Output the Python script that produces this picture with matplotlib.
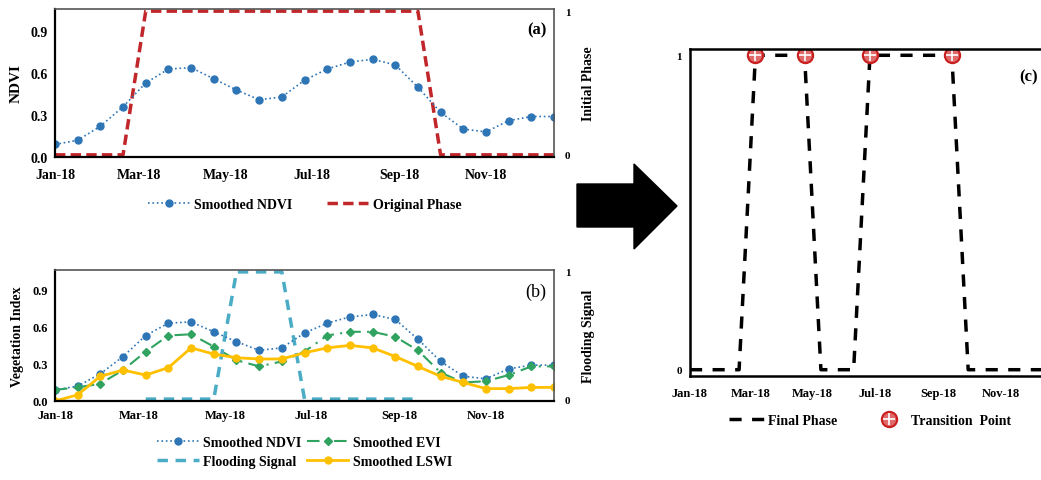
import numpy as np
import matplotlib
matplotlib.use("Agg")
import matplotlib.pyplot as plt
from matplotlib.patches import Polygon
from matplotlib.legend_handler import HandlerTuple

plt.rcParams['font.family'] = ['Liberation Serif', 'DejaVu Serif']
plt.rcParams['font.weight'] = 'bold'

# 16-day composite dates
dates = np.array(['2018-01-01', '2018-01-17', '2018-02-02', '2018-02-18', '2018-03-06',
                  '2018-03-22', '2018-04-07', '2018-04-23', '2018-05-09', '2018-05-25',
                  '2018-06-10', '2018-06-26', '2018-07-12', '2018-07-28', '2018-08-13',
                  '2018-08-29', '2018-09-14', '2018-09-30', '2018-10-16', '2018-11-01',
                  '2018-11-17', '2018-12-03', '2018-12-19'], dtype='datetime64[D]')

tick_dates = np.array(['2018-01-01', '2018-03-01', '2018-05-01', '2018-07-01',
                       '2018-09-01', '2018-11-01'], dtype='datetime64[D]')
tick_labels = ['Jan-18', 'Mar-18', 'May-18', 'Jul-18', 'Sep-18', 'Nov-18']

ndvi = [0.09, 0.12, 0.22, 0.36, 0.53, 0.63, 0.64, 0.56, 0.48, 0.41, 0.43, 0.55,
        0.63, 0.68, 0.70, 0.66, 0.50, 0.32, 0.20, 0.18, 0.26, 0.29, 0.29]
evi = [0.09, 0.11, 0.14, 0.25, 0.40, 0.53, 0.54, 0.44, 0.33, 0.28, 0.32, 0.40,
       0.53, 0.56, 0.56, 0.52, 0.41, 0.23, 0.15, 0.16, 0.21, 0.28, 0.28]
lswi = [0.00, 0.05, 0.20, 0.25, 0.21, 0.27, 0.43, 0.38, 0.35, 0.34, 0.34, 0.39,
        0.43, 0.45, 0.43, 0.36, 0.28, 0.20, 0.15, 0.10, 0.10, 0.11, 0.11]
original_phase = [0, 0, 0, 0, 1, 1, 1, 1, 1, 1, 1, 1, 1, 1, 1, 1, 1, 0, 0, 0, 0, 0, 0]
nan = np.nan
flooding = [nan, nan, nan, nan, 0, 0, 0, 0, 1, 1, 1, 0, 0, 0, 0, 0, 0,
            nan, nan, nan, nan, nan, nan]
final_phase = [0, 0, 0, 0, 1, 1, 1, 1, 0, 0, 0, 1, 1, 1, 1, 1, 1, 0, 0, 0, 0, 0, 0]
transition_idx = [4, 7, 11, 16]

c_ndvi = '#2e75b6'
c_evi = '#2fa35f'
c_lswi = '#ffc000'
c_flood = '#4bacc6'
c_phase = '#c0262a'

W, H = 1041, 481
fig = plt.figure(figsize=(W / 100, H / 100), dpi=100)


def box(x0, y0, x1, y1):
    # pixel box -> figure fraction
    return [x0 / W, 1 - y1 / H, (x1 - x0) / W, (y1 - y0) / H]


def style_left(ax, fs):
    ax.set_xlim(dates[0], dates[-1])
    ax.set_ylim(0, 1.06)
    ax.set_yticks([0, 0.3, 0.6, 0.9])
    ax.set_yticklabels(['0.0', '0.3', '0.6', '0.9'])
    ax.set_xticks(tick_dates)
    ax.set_xticklabels(tick_labels)
    ax.tick_params(length=0, labelsize=fs)
    ax.tick_params(axis='x', pad=8)
    ax.tick_params(axis='y', pad=5)
    for s in ['left', 'bottom']:
        ax.spines[s].set_color('black')
        ax.spines[s].set_linewidth(1.6)
    for s in ['top', 'right']:
        ax.spines[s].set_color('#555555')
        ax.spines[s].set_linewidth(1.2)


def style_right(ax2, label):
    ax2.set_ylim(-0.015, 1.015)
    ax2.set_yticks([0, 1])
    ax2.set_yticklabels(['0', '1'])
    ax2.tick_params(length=0, labelsize=8, pad=8)
    ax2.set_ylabel(label, fontsize=10, fontweight='bold', labelpad=8)
    for s in ax2.spines.values():
        s.set_visible(False)


# ---- panel (a)
ax_a = fig.add_axes(box(55, 10, 554, 158))
ax_a2 = ax_a.twinx()
ax_a.set_zorder(ax_a2.get_zorder() + 1)
ax_a.patch.set_visible(False)
l1, = ax_a.plot(dates, ndvi, ':', color=c_ndvi, lw=1.2, marker='o', ms=5,
                label='Smoothed NDVI')
l2, = ax_a2.plot(dates, original_phase, '--', color=c_phase, lw=2.5,
                 dashes=(3, 1.5), label='Original Phase')
style_left(ax_a, 10)
style_right(ax_a2, 'Initial Phase')
ax_a.set_ylabel('NDVI', fontsize=11, fontweight='bold', labelpad=6)
ax_a.text(0.985, 0.86, '(a)', transform=ax_a.transAxes, ha='right', va='center',
          fontsize=12, fontweight='bold')
ax_a.legend(handles=[l1, l2], loc='center', bbox_to_anchor=(0.5, -0.32), ncol=2,
            frameon=False, fontsize=10, handlelength=3, columnspacing=2.5,
            handletextpad=0.3)

# ---- panel (b)
ax_b = fig.add_axes(box(55, 271, 554, 402))
ax_b2 = ax_b.twinx()
ax_b.set_zorder(ax_b2.get_zorder() + 1)
ax_b.patch.set_visible(False)
b1, = ax_b.plot(dates, ndvi, ':', color=c_ndvi, lw=1.2, marker='o', ms=5,
                label='Smoothed NDVI')
b2, = ax_b.plot(dates, evi, '-.', color=c_evi, lw=1.5, marker='D', ms=4.5,
                dashes=(6, 3, 1, 3), label='Smoothed EVI')
b4, = ax_b.plot(dates, lswi, '-', color=c_lswi, lw=2, marker='o', ms=5,
                label='Smoothed LSWI')
b3, = ax_b2.plot(dates, flooding, '--', color=c_flood, lw=2.5, dashes=(3, 2.2),
                 label='Flooding Signal')
style_left(ax_b, 9)
ax_b.tick_params(axis='x', pad=6)
style_right(ax_b2, 'Flooding Signal')
ax_b.set_ylabel('Vegetation Index', fontsize=10, fontweight='bold', labelpad=6)
ax_b.text(0.985, 0.84, '(b)', transform=ax_b.transAxes, ha='right', va='center',
          fontsize=13, fontweight='normal')
ax_b.legend(handles=[b1, b3, b2, b4], loc='center', bbox_to_anchor=(0.5, -0.39),
            ncol=2, frameon=False, fontsize=10, handlelength=3, columnspacing=0.4,
            handletextpad=0.3, labelspacing=0.4)

# ---- panel (c)
ax_c = fig.add_axes(box(690, 50, 1050, 377))
c1, = ax_c.plot(dates, final_phase, '--', color='black', lw=2.5, dashes=(3.5, 3),
                label='Final Phase')
td = dates[transition_idx]
tv = np.array(final_phase)[transition_idx]
m1, = ax_c.plot(td, tv, 'o', ls='none', ms=11, mfc='#e06a6a', mec='#c81e1e', mew=1.5)
m2, = ax_c.plot(td, tv, '+', ls='none', ms=9, color='white', mew=1.2)
ax_c.set_xlim(dates[0], dates[-1])
ax_c.set_ylim(-0.02, 1.02)
ax_c.set_yticks([0, 1])
ax_c.set_yticklabels(['0', '1'])
ax_c.set_xticks(tick_dates)
ax_c.set_xticklabels(tick_labels)
ax_c.tick_params(length=0, labelsize=9)
ax_c.tick_params(axis='x', pad=8)
ax_c.tick_params(axis='y', labelsize=8, pad=6)
for s in ['left', 'bottom', 'top']:
    ax_c.spines[s].set_color('black')
    ax_c.spines[s].set_linewidth(1.8)
ax_c.spines['right'].set_visible(False)
ax_c.text(0.965, 0.915, '(c)', transform=ax_c.transAxes, ha='right', va='center',
          fontsize=12, fontweight='bold')
ax_c.legend(handles=[c1, (m1, m2)], labels=['Final Phase', 'Transition  Point'],
            handler_map={tuple: HandlerTuple(ndivide=1)},
            loc='center', bbox_to_anchor=(0.5, -0.135), ncol=2, frameon=False,
            fontsize=10, handlelength=2.5, columnspacing=2.5, handletextpad=0.3)

# big arrow between panels
arrow_px = [(577, 185), (634, 185), (634, 165), (677, 207), (634, 250), (634, 228), (577, 228)]
arrow = Polygon([(x / W, 1 - y / H) for x, y in arrow_px], closed=True,
                transform=fig.transFigure, facecolor='black', edgecolor='black')
fig.patches.append(arrow)

fig.savefig('out.png', dpi=100)
